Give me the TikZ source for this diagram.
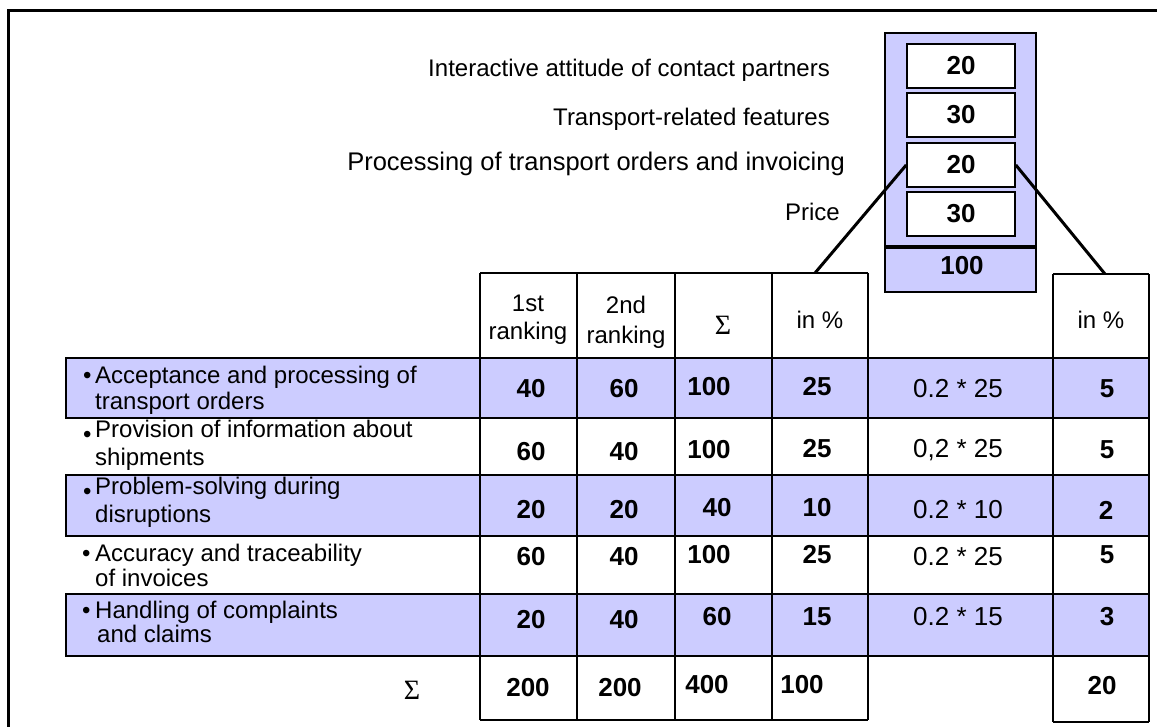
\documentclass[tikz,border=0pt]{standalone}
\usepackage{fontspec}
\setmainfont{Liberation Sans}
\newfontfamily\serifgreek{Liberation Serif}
\definecolor{lav}{HTML}{CCCCFF}
\begin{document}
\begin{tikzpicture}[x=1pt,y=-1pt,
  txt/.style={font=\fontsize{24}{26}\selectfont, inner sep=0pt},
  lbl/.style={txt, align=left, anchor=west},
  num/.style={font=\fontsize{26}{26}\selectfont\bfseries, inner sep=0pt},
  expr/.style={font=\fontsize{26}{26}\selectfont, inner sep=0pt},
  sig/.style={font=\fontsize{28}{28}\selectfont\serifgreek, inner sep=0pt},
  gridline/.style={line width=1.6pt},
  shaded/.style={fill=lav, draw=black, line width=1.6pt},
  wbox/.style={draw=black, fill=white, line width=1.6pt, minimum width=108pt, minimum height=44pt, inner sep=0pt, font=\fontsize{26}{26}\selectfont\bfseries},
  conn/.style={line width=3pt},
  framel/.style={line width=3pt}
]
\useasboundingbox (0,0) rectangle (1157,727);
% outer frame (left and top sides visible)
\draw[framel] (8.5,727) -- (8.5,11) -- (1157,11);

% top panel
\draw[fill=lav, line width=1.6pt] (885,33) rectangle (1036,292);
\draw[line width=4pt] (885,247) -- (1036,247);
\node[wbox] (b1) at (961,66) {20};
\node[wbox] (b2) at (961,115) {30};
\node[wbox] (b3) at (961,165) {20};
\node[wbox] (b4) at (961,214) {30};
\node[num] (tot) at (962,266) {100};

% top labels
\node[txt, anchor=east] (t1) at (830,70) {Interactive attitude of contact partners};
\node[txt, anchor=east] (t2) at (830,119) {Transport-related features};
\node[txt, anchor=east, font=\fontsize{25.5}{26}\selectfont] (t3) at (845,164) {Processing of transport orders and invoicing};
\node[txt, anchor=east] (t4) at (840,212) {Price};

% shaded rows
\draw[shaded] (66,358) rectangle (1149,418);
\draw[shaded] (66,475) rectangle (1149,536);
\draw[shaded] (66,594) rectangle (1149,656);

% grid
\foreach \x in {480,577,675,772,868} \draw[gridline] (\x,273) -- (\x,720);
\foreach \x in {1053,1149} \draw[gridline] (\x,274) -- (\x,722);
\draw[gridline] (480,273) -- (868,273);
\draw[gridline] (1053,274) -- (1149,274);
\draw[gridline] (480,720) -- (868,720);
\draw[gridline] (1053,722) -- (1149,722);
\draw[gridline] (480,358) -- (1149,358);

% header
\node[txt, align=center, font=\fontsize{24}{28}\selectfont] (h1) at (528,320) {1st\\ranking};
\node[txt, align=center, font=\fontsize{24}{30}\selectfont] (h2) at (626,322) {2nd\\ranking};
\node[sig] (h3) at (723,325) {Σ};
\node[txt] (h4) at (820,320) {in \%};
\node[txt] (h6) at (1101,320) {in \%};
\coordinate (h4top) at (815,273);
\coordinate (h6top) at (1105,274);

% connectors
\draw[conn] (b3.west) -- (h4top);
\draw[conn] (b3.east) -- (h6top);

% row labels
\node[lbl] (l1) at (83,390) {\makebox[12pt][l]{•}Acceptance and processing of\\\hspace*{12pt}transport orders};
\node[lbl, font=\fontsize{24}{28}\selectfont] (l2) at (83,445) {\makebox[12pt][l]{\raisebox{-0.22em}{•}}Provision of information about\\\hspace*{12pt}shipments};
\node[lbl, font=\fontsize{24}{28}\selectfont] (l3) at (83,502) {\makebox[12pt][l]{\raisebox{-0.22em}{•}}Problem-solving during\\\hspace*{12pt}disruptions};
\node[lbl, font=\fontsize{24}{25}\selectfont] (l4) at (82,565) {\makebox[13pt][l]{•}Accuracy and traceability\\\hspace*{13pt}of invoices};
\node[lbl, font=\fontsize{24}{24}\selectfont] (l5) at (82,622) {\makebox[13pt][l]{•}Handling of complaints\\\hspace*{15pt}and claims};

% row 1
\node[num] (r1a) at (531,389) {40};
\node[num] (r1b) at (624,389) {60};
\node[num] (r1c) at (709,387) {100};
\node[num] (r1d) at (817,387) {25};
\node[expr] (r1e) at (958,389) {0.2 * 25};
\node[num] (r1f) at (1107,389) {5};
% row 2
\node[num] (r2a) at (531,452) {60};
\node[num] (r2b) at (624,452) {40};
\node[num] (r2c) at (709,450) {100};
\node[num] (r2d) at (817,449) {25};
\node[expr] (r2e) at (958,450) {0,2 * 25};
\node[num] (r2f) at (1107,450) {5};
% row 3
\node[num] (r3a) at (531,510) {20};
\node[num] (r3b) at (624,510) {20};
\node[num] (r3c) at (717,508) {40};
\node[num] (r3d) at (817,508) {10};
\node[expr] (r3e) at (958,510) {0.2 * 10};
\node[num] (r3f) at (1106,510) {2};
% row 4
\node[num] (r4a) at (531,557) {60};
\node[num] (r4b) at (624,557) {40};
\node[num] (r4c) at (709,555) {100};
\node[num] (r4d) at (817,555) {25};
\node[expr] (r4e) at (958,557) {0.2 * 25};
\node[num] (r4f) at (1107,555) {5};
% row 5
\node[num] (r5a) at (531,620) {20};
\node[num] (r5b) at (624,620) {40};
\node[num] (r5c) at (717,617) {60};
\node[num] (r5d) at (817,617) {15};
\node[expr] (r5e) at (958,617) {0.2 * 15};
\node[num] (r5f) at (1107,617) {3};
% sum row
\node[sig] (s0) at (412,690) {Σ};
\node[num] (s1) at (528,688) {200};
\node[num] (s2) at (620,688) {200};
\node[num] (s3) at (707,685) {400};
\node[num] (s4) at (802,685) {100};
\node[num] (s6) at (1102,686) {20};
\end{tikzpicture}
\end{document}
